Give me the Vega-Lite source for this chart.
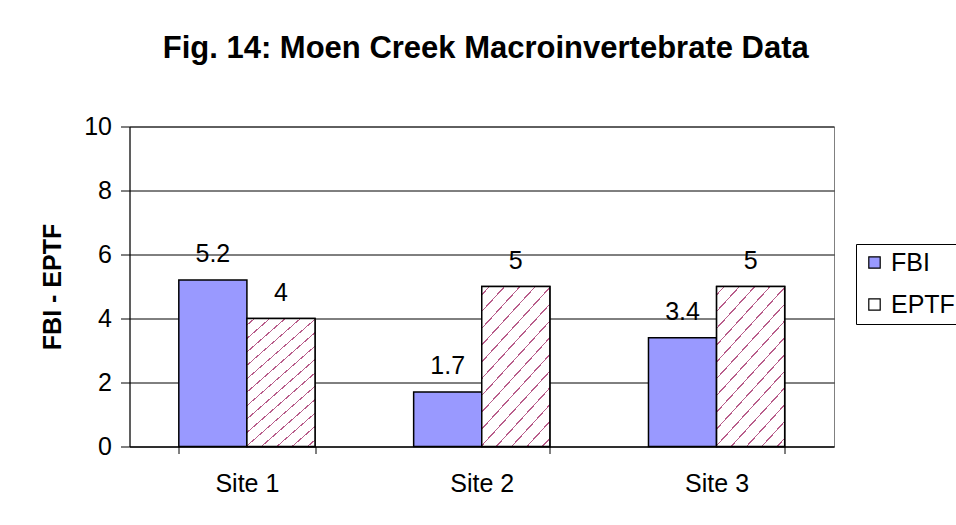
{
  "$schema": "https://vega.github.io/schema/vega-lite/v6.json",
  "width": 704.5,
  "height": 320,
  "autosize": {"type": "none"},
  "padding": {"left": 129.5, "top": 126.5, "right": 122, "bottom": 78.5},
  "background": "white",
  "config": {
    "font": "Liberation Sans",
    "view": {"stroke": "#808080", "strokeWidth": 1},
    "axis": {"labelColor": "black", "titleColor": "black", "domainColor": "black", "tickColor": "black", "labelFont": "Liberation Sans", "titleFont": "Liberation Sans"}
  },
  "title": {
    "text": "Fig. 14: Moen Creek Macroinvertebrate Data",
    "font": "Liberation Sans",
    "fontSize": 31,
    "fontWeight": "bold",
    "color": "black",
    "anchor": "middle",
    "frame": "group",
    "baseline": "alphabetic",
    "offset": 26,
    "dx": 4
  },
  "data": {
    "values": [
      {"site": "Site 1", "series": "FBI", "value": 5.2},
      {"site": "Site 1", "series": "EPTF", "value": 4},
      {"site": "Site 2", "series": "FBI", "value": 1.7},
      {"site": "Site 2", "series": "EPTF", "value": 5},
      {"site": "Site 3", "series": "FBI", "value": 3.4},
      {"site": "Site 3", "series": "EPTF", "value": 5}
    ]
  },
  "encoding": {
    "x": {
      "field": "site",
      "type": "nominal",
      "scale": {"paddingInner": 0.42, "paddingOuter": 0.21},
      "axis": {
        "title": null,
        "labelAngle": 0,
        "labelFontSize": 25,
        "tickBand": "extent",
        "tickSize": 7,
        "labelPadding": 18,
        "domainWidth": 1,
        "grid": false
      }
    },
    "xOffset": {"field": "series", "type": "nominal", "scale": {"domain": ["FBI", "EPTF"]}},
    "y": {
      "field": "value",
      "type": "quantitative",
      "scale": {"domain": [0, 10], "nice": false},
      "axis": {
        "title": "FBI - EPTF",
        "titleFontSize": 25,
        "titleFontWeight": "bold",
        "titlePadding": 18,
        "values": [0, 2, 4, 6, 8, 10],
        "labelFontSize": 25,
        "labelPadding": 9,
        "tickSize": 9,
        "grid": true,
        "gridColor": "#000000",
        "gridWidth": 1
      }
    }
  },
  "layer": [
    {
      "mark": {"type": "bar", "stroke": "black", "strokeWidth": 1.5},
      "encoding": {
        "fill": {
          "field": "series",
          "type": "nominal",
          "scale": {"domain": ["FBI", "EPTF"], "range": ["#9999FF", "#ffffff"]},
          "legend": {
            "title": null,
            "orient": "none",
            "legendX": 726.5,
            "legendY": 117.5,
            "direction": "vertical",
            "labelFontSize": 25,
            "labelFont": "Liberation Sans",
            "labelColor": "black",
            "symbolType": "square",
            "symbolSize": 130,
            "symbolStrokeColor": "black",
            "symbolStrokeWidth": 1.2,
            "strokeColor": "black",
            "fillColor": "white",
            "padding": 6,
            "rowPadding": 16,
            "labelOffset": 4
          }
        }
      }
    },
    {
      "transform": [{"filter": "datum.series === 'EPTF'"}],
      "mark": {
        "type": "bar",
        "stroke": "black",
        "strokeWidth": 1.5,
        "fill": {
          "gradient": "linear",
          "x1": 0, "y1": 0, "x2": 0.561, "y2": 1.205,
          "stops": [
            {"offset": 0, "color": "#ffffff"},
            {"offset": 0.032, "color": "#ffffff"}, {"offset": 0.032, "color": "#b85c8a"}, {"offset": 0.039, "color": "#b85c8a"}, {"offset": 0.039, "color": "#ffffff"},
            {"offset": 0.103, "color": "#ffffff"}, {"offset": 0.103, "color": "#b85c8a"}, {"offset": 0.110, "color": "#b85c8a"}, {"offset": 0.110, "color": "#ffffff"},
            {"offset": 0.175, "color": "#ffffff"}, {"offset": 0.175, "color": "#b85c8a"}, {"offset": 0.182, "color": "#b85c8a"}, {"offset": 0.182, "color": "#ffffff"},
            {"offset": 0.246, "color": "#ffffff"}, {"offset": 0.246, "color": "#b85c8a"}, {"offset": 0.253, "color": "#b85c8a"}, {"offset": 0.253, "color": "#ffffff"},
            {"offset": 0.318, "color": "#ffffff"}, {"offset": 0.318, "color": "#b85c8a"}, {"offset": 0.325, "color": "#b85c8a"}, {"offset": 0.325, "color": "#ffffff"},
            {"offset": 0.389, "color": "#ffffff"}, {"offset": 0.389, "color": "#b85c8a"}, {"offset": 0.396, "color": "#b85c8a"}, {"offset": 0.396, "color": "#ffffff"},
            {"offset": 0.461, "color": "#ffffff"}, {"offset": 0.461, "color": "#b85c8a"}, {"offset": 0.468, "color": "#b85c8a"}, {"offset": 0.468, "color": "#ffffff"},
            {"offset": 0.532, "color": "#ffffff"}, {"offset": 0.532, "color": "#b85c8a"}, {"offset": 0.539, "color": "#b85c8a"}, {"offset": 0.539, "color": "#ffffff"},
            {"offset": 0.604, "color": "#ffffff"}, {"offset": 0.604, "color": "#b85c8a"}, {"offset": 0.611, "color": "#b85c8a"}, {"offset": 0.611, "color": "#ffffff"},
            {"offset": 0.675, "color": "#ffffff"}, {"offset": 0.675, "color": "#b85c8a"}, {"offset": 0.682, "color": "#b85c8a"}, {"offset": 0.682, "color": "#ffffff"},
            {"offset": 0.746, "color": "#ffffff"}, {"offset": 0.746, "color": "#b85c8a"}, {"offset": 0.753, "color": "#b85c8a"}, {"offset": 0.753, "color": "#ffffff"},
            {"offset": 0.818, "color": "#ffffff"}, {"offset": 0.818, "color": "#b85c8a"}, {"offset": 0.825, "color": "#b85c8a"}, {"offset": 0.825, "color": "#ffffff"},
            {"offset": 0.889, "color": "#ffffff"}, {"offset": 0.889, "color": "#b85c8a"}, {"offset": 0.896, "color": "#b85c8a"}, {"offset": 0.896, "color": "#ffffff"},
            {"offset": 0.961, "color": "#ffffff"}, {"offset": 0.961, "color": "#b85c8a"}, {"offset": 0.968, "color": "#b85c8a"}, {"offset": 0.968, "color": "#ffffff"},
            {"offset": 1, "color": "#ffffff"}
          ]
        }
      }
    },
    {
      "mark": {"type": "text", "baseline": "alphabetic", "dy": -18, "fontSize": 25, "font": "Liberation Sans", "color": "black"},
      "encoding": {
        "text": {"field": "value", "type": "quantitative"}
      }
    }
  ]
}
